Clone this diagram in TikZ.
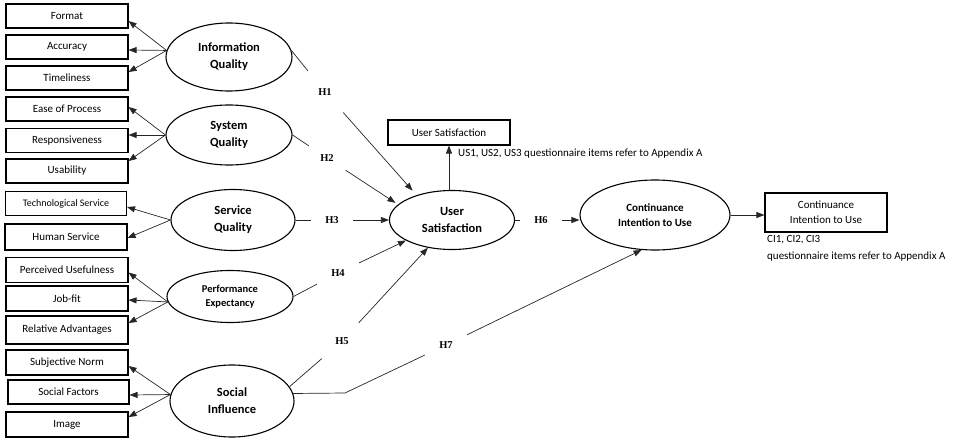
\documentclass[tikz,border=0pt]{standalone}
\usepackage{fontspec}
\setmainfont{Carlito}
\newfontfamily\hfont{Liberation Serif}
\usetikzlibrary{shapes.geometric,arrows.meta}
\begin{document}
\begin{tikzpicture}[x=1pt,y=-1pt,
 itembox/.style={draw, line width=1.1pt, minimum width=122pt, minimum height=24pt, inner sep=0pt, align=center, font=\fontsize{11}{15}\selectfont},
 latent/.style={draw, ellipse, line width=1.1pt, inner sep=0pt, align=center, font=\bfseries\fontsize{12.5}{17}\selectfont},
 hlab/.style={inner sep=0pt, minimum width=42pt, minimum height=24pt, font=\hfont\bfseries\fontsize{10.5}{12}\selectfont},
 conn/.style={line width=0.7pt, draw=black!85},
 arr/.style={conn, -{Triangle[length=8pt,width=6pt]}},
 note/.style={inner sep=0pt, align=left, font=\fontsize{11}{17}\selectfont},
]
\useasboundingbox (0,0) rectangle (960,444);

% indicator boxes
\node[itembox] (fmt) at (67,16) {Format};
\node[itembox] (acc) at (67,47) {Accuracy};
\node[itembox] (tim) at (67,78) {Timeliness};
\node[itembox] (eas) at (67,109) {Ease of Process};
\node[itembox] (res) at (67,140.5) {Responsiveness};
\node[itembox] (usa) at (67,171) {Usability};
\node[itembox, font=\fontsize{10}{12}\selectfont, minimum width=121pt] (tec) at (66,203.5) {Technological Service};
\node[itembox, minimum height=26pt] (hum) at (66,237) {Human Service};
\node[itembox, minimum height=25pt] (pu) at (67,270) {Perceived Usefulness};
\node[itembox, minimum height=25pt] (job) at (67,298.5) {Job-fit};
\node[itembox, minimum height=28pt] (ra) at (67,330) {Relative Advantages};
\node[itembox, minimum height=25pt] (sn) at (67,362.5) {Subjective Norm};
\node[itembox, minimum width=121pt] (sf) at (68.5,392) {Social Factors};
\node[itembox, minimum height=25pt] (img) at (67,424.5) {Image};

% latent constructs
\node[latent, minimum width=126pt, minimum height=68pt] (IQ) at (229,57) {Information\\Quality};
\node[latent, minimum width=126pt, minimum height=60pt] (SQ) at (229,135) {System\\Quality};
\node[latent, minimum width=124pt, minimum height=61pt] (SeQ) at (233,220) {Service\\Quality};
\node[latent, minimum width=126pt, minimum height=52pt, font=\bfseries\fontsize{10.5}{14}\selectfont] (PE) at (230,296.5) {Performance\\Expectancy};
\node[latent, minimum width=124pt, minimum height=72pt] (SI) at (232,401) {Social\\Influence};
\node[latent, minimum width=125pt, minimum height=59pt] (US) at (452,220) {User\\Satisfaction};
\node[latent, minimum width=150pt, minimum height=70pt, font=\bfseries\fontsize{11}{15}\selectfont] (CI) at (655,215) {Continuance\\Intention to Use};

% outcome boxes
\node[itembox, minimum height=25pt] (usbox) at (449,132.5) {User Satisfaction};
\node[itembox, minimum height=39pt] (cibox) at (826,212.5) {Continuance\\Intention to Use};

% notes
\node[note, anchor=west] (usnote) at (458,154) {US1, US2, US3 questionnaire items refer to Appendix A};
\node[note, anchor=west] (cinote) at (767,248.5) {CI1, CI2, CI3\\questionnaire items refer to Appendix A};

% indicator arrows
\draw[arr] (IQ.174) -- ([yshift=-5pt]fmt.east);
\draw[arr] (IQ.174) -- ([yshift=-3pt]acc.east);
\draw[arr] (IQ.174) -- ([yshift=6pt]tim.east);
\draw[arr] (SQ.west) -- ([yshift=2pt]eas.east);
\draw[arr] (SQ.west) -- ([yshift=5.5pt]res.east);
\draw[arr] (SQ.west) -- ([yshift=10pt]usa.east);
\draw[arr] (SeQ.west) -- ([yshift=-3.5pt]tec.east);
\draw[arr] (SeQ.west) -- ([yshift=-1pt]hum.east);
\draw[arr] (PE.185) -- ([yshift=-2.5pt]pu.east);
\draw[arr] (PE.185) -- ([yshift=-1.5pt]job.east);
\draw[arr] (PE.185) -- ([yshift=7pt]ra.east);
\draw[arr] (SI.174) -- ([yshift=-3.5pt]sn.east);
\draw[arr] (SI.174) -- ([yshift=-3pt]sf.east);
\draw[arr] (SI.174) -- ([yshift=7.5pt]img.east);

% outcome arrows
\draw[arr] (US.north -| usbox.south) -- (usbox.south);
\draw[arr] (CI.east) -- (CI.east -| cibox.west);

% hypotheses
\node[hlab, minimum width=36pt, minimum height=42pt] (h1) at (325,92) {H1};
\draw[conn] (IQ.6) -- (h1);
\draw[arr, shorten >=6pt] (h1) -- (US.145);

\node[hlab] (h2) at (327,158) {H2};
\draw[conn] (SQ.east) -- (h2);
\draw[arr, shorten >=3pt] (h2) -- (US.164);

\node[hlab] (h3) at (332,220) {H3};
\draw[conn] (SeQ.east) -- (h3);
\draw[arr] (h3) -- (US.west);

\node[hlab] (h4) at (338,273) {H4};
\draw[conn] (PE.east) -- (h4);
\draw[arr] (h4) -- (US.204);

\node[hlab, minimum width=40pt, minimum height=36pt] (h5) at (342,341) {H5};
\draw[conn] (SI.14) -- (h5);
\draw[arr] (h5) -- (US.229);

\node[hlab] (h6) at (541,220) {H6};
\draw[conn] (US.east) -- (h6);
\draw[arr] (h6) -- (h6 -| CI.west);

\coordinate (h7b) at (345,393);
\node[hlab] (h7) at (446,345) {H7};
\draw[conn] (SI.7) -- (h7b) -- (h7);
\draw[arr] (h7) -- (CI.249);
\end{tikzpicture}
\end{document}
